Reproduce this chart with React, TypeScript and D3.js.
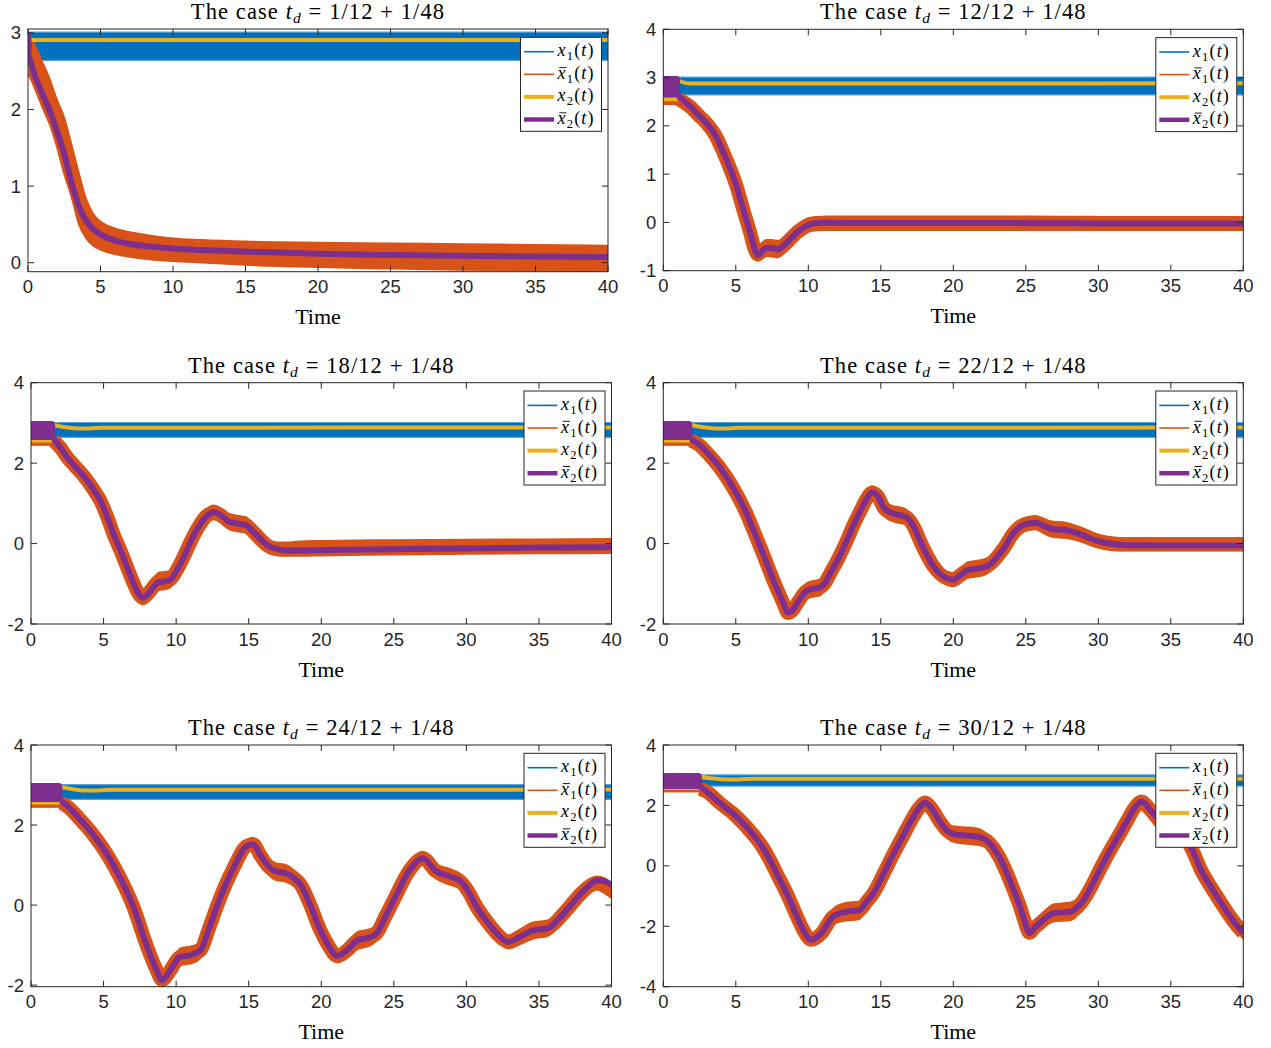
import React from 'react';
import * as d3 from 'd3';

// MATLAB default line colours
const COLORS = { x1: '#0072BD', x1bar: '#D95319', x2: '#EDB120', x2bar: '#7E2F8E' };
const AXIS_COLOR = '#262626';

const T_MAX = 40;
const X_TICKS = [0, 5, 10, 15, 20, 25, 30, 35, 40];

// delay t_d = n/12 + 1/48 for each subplot
const DELAY_NUMERATORS = [1, 12, 18, 22, 24, 30];
const DELAYS = DELAY_NUMERATORS.map((n) => n / 12 + 1 / 48);

const Y_DOMAINS: [number, number][] = [[-0.117, 3.05], [-1, 4], [-2, 4], [-2, 4], [-2.04, 4], [-4, 4]];
const Y_TICKS = [[0, 1, 2, 3], [-1, 0, 1, 2, 3, 4], [-2, 0, 2, 4], [-2, 0, 2, 4], [-2, 0, 2, 4], [-4, -2, 0, 2, 4]];

// x1 stays in a narrow band near 3; initial histories on [0, t_d]
const X1_BAND = [2.64, 3.01];
const X1BAR_HISTORY = [2.43, 3.0];
const X2_HISTORY = [2.51, 2.98];
const X2BAR_HISTORY = [2.66, 2.96];

// ---- subplot 1: t_d = 1/12 + 1/48
const P1_T = [0.1, 0.4, 1.0, 1.5, 2.0, 2.5, 3.0, 3.5, 4.0, 4.5, 5.0, 6.0, 7.0, 8.0, 10, 12, 15, 20, 25, 30, 35, 40];
const P1_X2BAR = [2.67, 2.48, 2.2, 1.98, 1.72, 1.42, 1.05, 0.74, 0.55, 0.44, 0.37, 0.29, 0.245, 0.22, 0.185, 0.165, 0.145, 0.117, 0.1, 0.09, 0.081, 0.074];
const P1_X1BAR_HI = [3.0, 2.87, 2.62, 2.4, 2.13, 1.9, 1.55, 1.18, 0.84, 0.64, 0.54, 0.45, 0.4, 0.37, 0.32, 0.3, 0.28, 0.265, 0.255, 0.245, 0.235, 0.225];
const P1_X1BAR_LO = [2.43, 2.3, 2.02, 1.8, 1.5, 1.15, 0.85, 0.5, 0.32, 0.22, 0.17, 0.11, 0.075, 0.05, 0.02, 0.0, -0.03, -0.06, -0.08, -0.095, -0.105, -0.115];
const P1_X2_T = [0.1, 40];
const P1_X2 = [2.905, 2.905];

// ---- subplot 2: t_d = 12/12 + 1/48
const P2_T = [1.05, 1.8, 2.5, 3.0, 3.6, 4.1, 4.6, 5.05, 5.5, 6.0, 6.3, 6.5, 6.8, 7.1, 7.5, 7.9, 8.4, 8.8, 9.2, 9.7, 10.1, 10.6, 11.3, 13, 16, 20, 25, 30, 35, 40];
const P2_X2BAR = [2.62, 2.42, 2.2, 2.05, 1.8, 1.48, 1.12, 0.75, 0.28, -0.22, -0.55, -0.68, -0.6, -0.53, -0.53, -0.56, -0.45, -0.33, -0.21, -0.1, -0.04, -0.01, 0.0, -0.01, -0.01, -0.01, -0.015, -0.02, -0.02, -0.02];
const P2_X1BAR_HI = [2.66, 2.56, 2.35, 2.2, 1.95, 1.63, 1.27, 0.9, 0.43, -0.07, -0.4, -0.52, -0.42, -0.36, -0.36, -0.38, -0.28, -0.16, -0.05, 0.05, 0.1, 0.12, 0.13, 0.13, 0.13, 0.13, 0.13, 0.12, 0.12, 0.12];
const P2_X1BAR_LO = [2.45, 2.26, 2.05, 1.9, 1.65, 1.33, 0.97, 0.6, 0.13, -0.37, -0.7, -0.8, -0.76, -0.7, -0.71, -0.73, -0.62, -0.5, -0.37, -0.26, -0.19, -0.17, -0.16, -0.16, -0.16, -0.16, -0.16, -0.16, -0.16, -0.16];
const P2_X2_T = [1.05, 1.7, 2.5, 40];
const P2_X2 = [2.94, 2.88, 2.875, 2.88];

// ---- subplot 3: t_d = 18/12 + 1/48
const P3_T = [1.55, 2.0, 2.5, 3.0, 3.6, 4.2, 4.8, 5.3, 5.7, 6.2, 6.6, 7.0, 7.4, 7.7, 8.0, 8.4, 8.8, 9.2, 9.6, 10.0, 10.5, 11.0, 11.6, 12.1, 12.6, 13.1, 13.6, 14.2, 14.8, 15.3, 15.8, 16.3, 17.0, 17.7, 18.5, 20, 25, 30, 35, 40];
const P3_X2BAR = [2.6, 2.4, 2.14, 1.93, 1.69, 1.4, 1.05, 0.62, 0.22, -0.2, -0.57, -0.93, -1.24, -1.35, -1.28, -1.1, -0.96, -0.94, -0.9, -0.7, -0.35, 0.05, 0.45, 0.68, 0.78, 0.7, 0.55, 0.5, 0.46, 0.3, 0.12, -0.04, -0.14, -0.17, -0.17, -0.16, -0.14, -0.12, -0.1, -0.09];
const P3_X1BAR_HI = [2.68, 2.55, 2.3, 2.1, 1.86, 1.57, 1.22, 0.79, 0.39, -0.03, -0.4, -0.76, -1.07, -1.18, -1.08, -0.88, -0.72, -0.7, -0.68, -0.5, -0.17, 0.22, 0.62, 0.86, 0.95, 0.88, 0.75, 0.7, 0.66, 0.5, 0.3, 0.12, 0.03, 0.03, 0.06, 0.07, 0.09, 0.1, 0.11, 0.12];
const P3_X1BAR_LO = [2.45, 2.24, 1.98, 1.77, 1.53, 1.23, 0.88, 0.45, 0.05, -0.37, -0.74, -1.1, -1.41, -1.52, -1.45, -1.3, -1.16, -1.14, -1.1, -0.88, -0.52, -0.12, 0.28, 0.52, 0.6, 0.52, 0.36, 0.3, 0.26, 0.1, -0.08, -0.22, -0.3, -0.31, -0.31, -0.3, -0.28, -0.26, -0.25, -0.24];
const P3_X2_T = [1.55, 2.4, 3.4, 5, 40];
const P3_X2 = [2.95, 2.89, 2.86, 2.88, 2.885];

// ---- subplot 4: t_d = 22/12 + 1/48
const P4_T = [1.9, 2.5, 3.0, 3.9, 4.8, 5.75, 6.2, 6.7, 7.2, 7.6, 8.0, 8.3, 8.6, 8.9, 9.2, 9.9, 10.4, 10.8, 11.2, 11.5, 12.1, 12.65, 13.1, 13.6, 14.0, 14.4, 14.8, 15.2, 15.9, 16.4, 16.8, 17.3, 17.7, 18.2, 18.6, 19.1, 19.6, 20.0, 20.5, 21.0, 21.5, 22.1, 22.6, 23.0, 23.6, 24.1, 24.6, 25.2, 25.7, 26.2, 26.7, 27.8, 28.7, 29.9, 31.0, 32.0, 35, 40];
const P4_X2BAR = [2.6, 2.45, 2.27, 1.89, 1.4, 0.74, 0.35, -0.09, -0.55, -0.92, -1.25, -1.5, -1.72, -1.66, -1.5, -1.17, -1.12, -1.09, -0.95, -0.75, -0.35, 0.07, 0.45, 0.82, 1.1, 1.27, 1.18, 0.9, 0.74, 0.7, 0.65, 0.4, 0.07, -0.3, -0.55, -0.76, -0.87, -0.9, -0.78, -0.66, -0.63, -0.59, -0.5, -0.34, -0.05, 0.24, 0.42, 0.5, 0.52, 0.45, 0.37, 0.33, 0.24, 0.07, -0.01, -0.04, -0.05, -0.05];
const P4_X1BAR_HI = [2.68, 2.6, 2.43, 2.05, 1.56, 0.9, 0.51, 0.07, -0.39, -0.76, -1.09, -1.34, -1.56, -1.5, -1.33, -0.98, -0.92, -0.89, -0.77, -0.58, -0.18, 0.24, 0.62, 0.99, 1.27, 1.43, 1.35, 1.08, 0.93, 0.9, 0.84, 0.57, 0.24, -0.13, -0.38, -0.59, -0.7, -0.73, -0.6, -0.46, -0.43, -0.39, -0.31, -0.17, 0.12, 0.41, 0.59, 0.67, 0.69, 0.63, 0.56, 0.52, 0.42, 0.24, 0.16, 0.14, 0.14, 0.14];
const P4_X1BAR_LO = [2.44, 2.29, 2.1, 1.72, 1.23, 0.57, 0.18, -0.26, -0.72, -1.09, -1.42, -1.67, -1.88, -1.83, -1.68, -1.37, -1.32, -1.29, -1.13, -0.92, -0.52, -0.1, 0.28, 0.65, 0.93, 1.1, 1.0, 0.7, 0.54, 0.5, 0.46, 0.23, -0.1, -0.47, -0.72, -0.93, -1.04, -1.07, -0.96, -0.86, -0.83, -0.79, -0.68, -0.51, -0.22, 0.07, 0.25, 0.33, 0.35, 0.26, 0.17, 0.13, 0.06, -0.1, -0.17, -0.18, -0.18, -0.18];
const P4_X2_T = [1.9, 2.8, 3.8, 5.5, 40];
const P4_X2 = [2.95, 2.89, 2.86, 2.88, 2.885];

// ---- subplot 5: t_d = 24/12 + 1/48
const P5_T = [2.05, 2.3, 3.4, 4.3, 5.2, 6.1, 7.05, 8.0, 8.65, 9.05, 9.5, 10.3, 11.0, 11.7, 12.2, 12.8, 13.4, 14.0, 14.8, 15.3, 15.8, 16.3, 16.8, 17.6, 18.1, 18.6, 19.3, 19.9, 20.4, 21.1, 21.8, 22.5, 23.1, 23.8, 24.4, 25.0, 26.1, 27.0, 27.9, 28.9, 29.6, 30.2, 30.7, 31.4, 32.1, 32.9, 33.7, 34.6, 35.6, 36.5, 37.2, 37.9, 38.5, 39.0, 39.5, 40];
const P5_X2BAR = [2.6, 2.54, 2.13, 1.75, 1.29, 0.71, -0.04, -1.04, -1.62, -1.88, -1.68, -1.29, -1.25, -1.12, -0.65, -0.04, 0.5, 0.96, 1.46, 1.52, 1.25, 1.0, 0.85, 0.79, 0.68, 0.5, -0.05, -0.6, -0.95, -1.27, -1.12, -0.88, -0.83, -0.71, -0.3, 0.13, 0.88, 1.17, 0.85, 0.71, 0.6, 0.3, -0.04, -0.4, -0.71, -0.92, -0.79, -0.63, -0.58, -0.29, 0.0, 0.29, 0.5, 0.62, 0.6, 0.5];
const P5_X1BAR_HI = [2.66, 2.66, 2.3, 1.92, 1.46, 0.88, 0.13, -0.87, -1.45, -1.71, -1.5, -1.08, -1.03, -0.93, -0.48, 0.13, 0.67, 1.13, 1.63, 1.69, 1.43, 1.19, 1.06, 1.0, 0.88, 0.68, 0.12, -0.43, -0.78, -1.1, -0.93, -0.67, -0.62, -0.52, -0.13, 0.3, 1.05, 1.34, 1.03, 0.9, 0.78, 0.47, 0.13, -0.23, -0.54, -0.75, -0.6, -0.43, -0.38, -0.12, 0.17, 0.46, 0.66, 0.72, 0.68, 0.56];
const P5_X1BAR_LO = [2.44, 2.37, 1.96, 1.58, 1.12, 0.54, -0.21, -1.21, -1.79, -2.04, -1.86, -1.5, -1.47, -1.32, -0.82, -0.21, 0.33, 0.79, 1.29, 1.35, 1.06, 0.79, 0.63, 0.57, 0.48, 0.32, -0.22, -0.77, -1.12, -1.44, -1.32, -1.1, -1.05, -0.9, -0.47, -0.04, 0.71, 1.0, 0.66, 0.5, 0.4, 0.13, -0.21, -0.57, -0.88, -1.09, -0.98, -0.84, -0.78, -0.46, -0.17, 0.12, 0.3, 0.38, 0.3, 0.17];
const P5_X2_T = [2.05, 3.0, 4.0, 5.7, 40];
const P5_X2 = [2.95, 2.89, 2.86, 2.88, 2.885];

// ---- subplot 6: t_d = 30/12 + 1/48
const P6_T = [2.55, 3.0, 3.9, 5.05, 6.2, 6.8, 7.35, 7.9, 8.5, 9.1, 9.65, 10.2, 10.9, 11.7, 12.6, 13.5, 14.0, 14.5, 15.2, 15.9, 16.6, 17.25, 17.7, 18.05, 18.5, 19.1, 19.6, 20.2, 21.0, 21.8, 22.5, 23.1, 23.7, 24.2, 24.6, 24.9, 25.25, 25.6, 26.0, 26.9, 28.1, 28.6, 29.0, 29.5, 30.1, 30.8, 31.5, 32.0, 32.4, 33.0, 33.5, 34.0, 34.7, 35.4, 36.0, 36.5, 37.1, 37.9, 38.5, 39.1, 39.6, 40];
const P6_X2BAR = [2.62, 2.45, 2.08, 1.63, 1.03, 0.65, 0.2, -0.33, -0.9, -1.55, -2.12, -2.45, -2.23, -1.68, -1.52, -1.47, -1.2, -0.9, -0.25, 0.42, 1.05, 1.63, 1.95, 2.1, 1.9, 1.45, 1.15, 1.03, 1.0, 0.95, 0.75, 0.35, -0.25, -0.85, -1.35, -1.8, -2.22, -2.05, -1.88, -1.57, -1.51, -1.35, -1.12, -0.7, -0.13, 0.5, 1.08, 1.5, 1.85, 2.13, 1.9, 1.62, 1.2, 1.05, 0.9, 0.5, -0.15, -0.8, -1.25, -1.68, -2.0, -2.22];
const P6_X1BAR_HI = [2.66, 2.63, 2.26, 1.81, 1.21, 0.83, 0.38, -0.15, -0.72, -1.37, -1.94, -2.28, -2.02, -1.42, -1.22, -1.18, -0.98, -0.72, -0.07, 0.6, 1.23, 1.81, 2.12, 2.26, 2.08, 1.65, 1.4, 1.3, 1.28, 1.22, 0.95, 0.53, -0.07, -0.67, -1.17, -1.62, -2.05, -1.85, -1.65, -1.27, -1.2, -1.08, -0.9, -0.52, 0.05, 0.68, 1.26, 1.68, 2.03, 2.29, 2.08, 1.82, 1.45, 1.32, 1.15, 0.7, 0.03, -0.62, -1.07, -1.5, -1.82, -2.02];
const P6_X1BAR_LO = [2.44, 2.27, 1.9, 1.45, 0.85, 0.47, 0.02, -0.51, -1.08, -1.73, -2.3, -2.62, -2.45, -1.95, -1.82, -1.78, -1.42, -1.08, -0.43, 0.24, 0.87, 1.45, 1.78, 1.94, 1.72, 1.25, 0.9, 0.76, 0.72, 0.68, 0.55, 0.17, -0.43, -1.03, -1.53, -1.98, -2.38, -2.25, -2.12, -1.85, -1.8, -1.62, -1.32, -0.88, -0.31, 0.32, 0.9, 1.32, 1.67, 1.97, 1.72, 1.42, 0.95, 0.78, 0.65, 0.3, -0.33, -0.98, -1.43, -1.86, -2.18, -2.42];
const P6_X2_T = [2.55, 3.5, 4.5, 6.2, 40];
const P6_X2 = [2.95, 2.89, 2.86, 2.88, 2.885];

const SERIES = [
  { t: P1_T, x2bar: P1_X2BAR, hi: P1_X1BAR_HI, lo: P1_X1BAR_LO, x2t: P1_X2_T, x2: P1_X2 },
  { t: P2_T, x2bar: P2_X2BAR, hi: P2_X1BAR_HI, lo: P2_X1BAR_LO, x2t: P2_X2_T, x2: P2_X2 },
  { t: P3_T, x2bar: P3_X2BAR, hi: P3_X1BAR_HI, lo: P3_X1BAR_LO, x2t: P3_X2_T, x2: P3_X2 },
  { t: P4_T, x2bar: P4_X2BAR, hi: P4_X1BAR_HI, lo: P4_X1BAR_LO, x2t: P4_X2_T, x2: P4_X2 },
  { t: P5_T, x2bar: P5_X2BAR, hi: P5_X1BAR_HI, lo: P5_X1BAR_LO, x2t: P5_X2_T, x2: P5_X2 },
  { t: P6_T, x2bar: P6_X2BAR, hi: P6_X1BAR_HI, lo: P6_X1BAR_LO, x2t: P6_X2_T, x2: P6_X2 },
];

// axes boxes of the 3x2 subplot grid (pixels)
const PANEL_BOXES = [
  { left: 28, right: 608, top: 29, bottom: 271.7 },
  { left: 663.3, right: 1243.3, top: 29.3, bottom: 270.7 },
  { left: 31, right: 611.5, top: 382.7, bottom: 624 },
  { left: 663.3, right: 1243.3, top: 382.7, bottom: 624 },
  { left: 31, right: 611.5, top: 745, bottom: 986.7 },
  { left: 663.3, right: 1243.3, top: 745, bottom: 986.7 },
];

const LEGEND_ITEMS = [
  { bar: false, sub: '1', color: COLORS.x1, width: 1.6 },
  { bar: true, sub: '1', color: COLORS.x1bar, width: 1.6 },
  { bar: false, sub: '2', color: COLORS.x2, width: 4 },
  { bar: true, sub: '2', color: COLORS.x2bar, width: 4.5 },
];

const SERIF = '"Liberation Serif", "Times New Roman", serif';
const SANS = '"Liberation Sans", Arial, Helvetica, sans-serif';

type Pt = { t: number; c: number; hi: number; lo: number };

function Legend({ right, top }: { right: number; top: number }) {
  const w = 81;
  const h = 94;
  const lx = right - 6.5 - w;
  const ly = top + 8.3;
  return (
    <g>
      <rect x={lx} y={ly} width={w} height={h} fill="#fff" stroke={AXIS_COLOR} strokeWidth={1} />
      {LEGEND_ITEMS.map((it, i) => {
        const yc = ly + 14.4 + i * 22.6;
        const tx = lx + 37;
        return (
          <g key={i}>
            <line x1={lx + 3.5} x2={lx + 33.5} y1={yc} y2={yc} stroke={it.color} strokeWidth={it.width} />
            {it.bar && <line x1={tx + 1.8} x2={tx + 9} y1={yc - 6.7} y2={yc - 6.7} stroke="#000" strokeWidth={0.9} />}
            <text x={tx} y={yc + 4.5} fontFamily={SERIF} fontSize={18} letterSpacing={1.2} fill="#000">
              <tspan fontStyle="italic">x</tspan>
              <tspan fontSize={12.5} dy={4}>{it.sub}</tspan>
              <tspan dy={-4}>(</tspan>
              <tspan fontStyle="italic">t</tspan>
              <tspan>)</tspan>
            </text>
          </g>
        );
      })}
    </g>
  );
}

function Panel({ index }: { index: number }) {
  const box = PANEL_BOXES[index];
  const td = DELAYS[index];
  const s = SERIES[index];
  const x = d3.scaleLinear().domain([0, T_MAX]).range([box.left, box.right]);
  const y = d3.scaleLinear().domain(Y_DOMAINS[index]).range([box.bottom, box.top]);
  const clipId = `plot-clip-${index}`;

  const pts: Pt[] = s.t.map((t, i) => ({ t, c: s.x2bar[i], hi: s.hi[i], lo: s.lo[i] }));
  const band = d3.area<Pt>().x((d) => x(d.t)).y0((d) => y(d.lo)).y1((d) => y(d.hi)).curve(d3.curveMonotoneX);
  const mid = d3.line<Pt>().x((d) => x(d.t)).y((d) => y((d.hi + d.lo) / 2)).curve(d3.curveMonotoneX);
  const center = d3.line<Pt>().x((d) => x(d.t)).y((d) => y(d.c)).curve(d3.curveMonotoneX);
  const x2pts = s.x2t.map((t, i) => ({ t, v: s.x2[i] }));
  const x2line = d3.line<{ t: number; v: number }>().x((d) => x(d.t)).y((d) => y(d.v)).curve(d3.curveMonotoneX);

  const x1band = d3
    .area<number>()
    .x((t) => x(t))
    .y0(() => y(X1_BAND[0]))
    .y1(() => y(X1_BAND[1]));

  const hist = (r: number[]) => ({
    x: x(0),
    y: y(r[1]),
    width: x(td) - x(0),
    height: y(r[0]) - y(r[1]),
  });

  const blockX0 = x(0) - 4;
  const blockX1 = x(td) + 2;
  const cx = (box.left + box.right) / 2;
  const yTicks = Y_TICKS[index];
  const tick = 6;

  return (
    <g>
      <defs>
        <clipPath id={clipId}>
          <rect x={box.left} y={box.top} width={box.right - box.left} height={box.bottom - box.top} />
        </clipPath>
      </defs>
      <g clipPath={`url(#${clipId})`}>
        {/* x1(t) */}
        <path d={x1band([0, T_MAX]) || ''} fill={COLORS.x1} />
        <line x1={x(0)} x2={x(T_MAX)} y1={y(X1_BAND[1])} y2={y(X1_BAND[1])} stroke="#5aa3da" strokeWidth={1.2} />
        <line x1={x(0)} x2={x(T_MAX)} y1={y(X1_BAND[0])} y2={y(X1_BAND[0])} stroke="#5aa3da" strokeWidth={1.2} />
        {/* x̄1(t) */}
        <rect {...hist(X1BAR_HISTORY)} fill={COLORS.x1bar} />
        <path d={band(pts) || ''} fill={COLORS.x1bar} stroke={COLORS.x1bar} strokeWidth={1.5} strokeLinejoin="round" />
        <path d={mid(pts) || ''} fill="none" stroke={COLORS.x1bar} strokeWidth={14} strokeLinejoin="round" />
        {/* x2(t) */}
        <rect {...hist(X2_HISTORY)} fill={COLORS.x2} />
        <path d={x2line(x2pts) || ''} fill="none" stroke={COLORS.x2} strokeWidth={4} strokeLinejoin="round" />
        {/* x̄2(t) */}
        <rect
          x={blockX0}
          y={y(X2BAR_HISTORY[1]) - 3.5}
          width={blockX1 - blockX0}
          height={y(X2BAR_HISTORY[0]) - y(X2BAR_HISTORY[1]) + 7}
          rx={3.5}
          fill={COLORS.x2bar}
        />
        <path d={center(pts) || ''} fill="none" stroke={COLORS.x2bar} strokeWidth={6} strokeLinejoin="round" />
      </g>

      {/* axes box and ticks */}
      <rect
        x={box.left}
        y={box.top}
        width={box.right - box.left}
        height={box.bottom - box.top}
        fill="none"
        stroke={AXIS_COLOR}
        strokeWidth={1}
      />
      {X_TICKS.map((v) => (
        <g key={`xt${v}`}>
          <line x1={x(v)} x2={x(v)} y1={box.bottom} y2={box.bottom - tick} stroke={AXIS_COLOR} strokeWidth={1} />
          <line x1={x(v)} x2={x(v)} y1={box.top} y2={box.top + tick} stroke={AXIS_COLOR} strokeWidth={1} />
          <text x={x(v)} y={box.bottom + 21.6} textAnchor="middle" fontFamily={SANS} fontSize={18.5} fill={AXIS_COLOR}>
            {String(v)}
          </text>
        </g>
      ))}
      {yTicks.map((v) => (
        <g key={`yt${v}`}>
          <line x1={box.left} x2={box.left + tick} y1={y(v)} y2={y(v)} stroke={AXIS_COLOR} strokeWidth={1} />
          <line x1={box.right} x2={box.right - tick} y1={y(v)} y2={y(v)} stroke={AXIS_COLOR} strokeWidth={1} />
          <text x={box.left - 7} y={y(v) + 6.6} textAnchor="end" fontFamily={SANS} fontSize={18.5} fill={AXIS_COLOR}>
            {String(v)}
          </text>
        </g>
      ))}

      {/* title */}
      <text x={cx} y={box.top - 10} textAnchor="middle" fontFamily={SERIF} fontSize={22.5} letterSpacing={1.1} fill="#000">
        <tspan>{'The case '}</tspan>
        <tspan fontStyle="italic">t</tspan>
        <tspan fontStyle="italic" fontSize={15.5} dy={4}>d</tspan>
        <tspan dy={-4}>{` = ${DELAY_NUMERATORS[index]}/12 + 1/48`}</tspan>
      </text>

      {/* x label */}
      <text x={cx} y={box.bottom + 52.5} textAnchor="middle" fontFamily={SERIF} fontSize={22} fill="#000">
        Time
      </text>

      <Legend right={box.right} top={box.top} />
    </g>
  );
}

export default function App() {
  return (
    <svg
      width={1271}
      height={1048}
      viewBox="0 0 1271 1048"
      style={{ position: 'absolute', left: 0, top: 0, display: 'block', background: '#fff' }}
    >
      <rect x={0} y={0} width={1271} height={1048} fill="#fff" />
      {PANEL_BOXES.map((_, i) => (
        <Panel key={i} index={i} />
      ))}
    </svg>
  );
}
